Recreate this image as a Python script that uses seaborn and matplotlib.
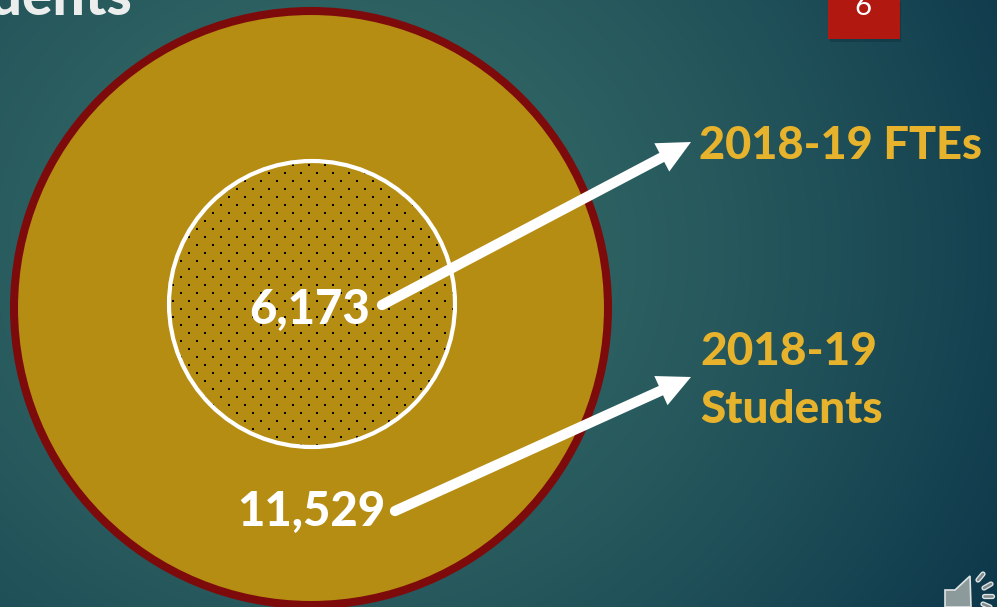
import numpy as np
import pandas as pd
import matplotlib
matplotlib.use("Agg")
import matplotlib.pyplot as plt
from matplotlib.patches import Circle, Rectangle, Polygon
import seaborn as sns

categories = ["2018-19 FTEs", "2018-19", "Students"]
values = [6173, 11529]
slide_number = "6"
title_fragment = "Students"

sns.set_theme(style="white")
plt.rcParams["font.family"] = ["Lato", "DejaVu Sans"]

fig = plt.figure(figsize=(9.97, 6.07), dpi=100)
ax = fig.add_axes([0, 0, 1, 1])
ax.set_xlim(0, 997)
ax.set_ylim(607, 0)
ax.axis("off")

# background gradient
xx, yy = np.meshgrid(np.arange(997), np.arange(607))
d = np.sqrt(((xx - 330) / 760) ** 2 + ((yy - 250) / 700) ** 2)
t = np.clip(d, 0, 1)[..., None] ** 1.5
inner = np.array([0x35, 0x6b, 0x67]) / 255
outer = np.array([0x0d, 0x38, 0x4b]) / 255
ax.imshow(inner + (outer - inner) * t, extent=(0, 997, 607, 0), aspect="auto", zorder=0)

# circles
gold = "#b58d13"
ax.add_patch(Circle((311, 308), 297, fc=gold, ec="#7e0b0b", lw=5.8, zorder=1))
inner_c = Circle((312, 304), 143, fc=gold, ec="none", zorder=2)
ax.add_patch(inner_c)

# stipple
rows = np.arange(157, 456, 8)
px, py = [], []
for i, y in enumerate(rows):
    off = 0 if i % 2 == 0 else 8
    for x in np.arange(157 + off, 470, 16):
        px.append(x); py.append(y)
dots = sns.scatterplot(x=px, y=py, ax=ax, s=4.6, color="#050500", marker="s", linewidth=0, zorder=3, legend=False)
dots.collections[-1].set_clip_path(inner_c)
ax.set_xlim(0, 997); ax.set_ylim(607, 0)
ax.add_patch(Circle((312, 304), 143, fc="none", ec="white", lw=3, zorder=4))

# arrows
def arrow(p0, p1):
    p0, p1 = np.array(p0, float), np.array(p1, float)
    u = (p1 - p0) / np.linalg.norm(p1 - p0)
    n = np.array([-u[1], u[0]])
    base = p1 - u * 33
    ax.plot([p0[0], base[0]], [p0[1], base[1]], color="white", lw=7.4, solid_capstyle="round", zorder=6)
    ax.add_patch(Polygon([p1, base + n * 16, base - n * 16], fc="white", ec="none", zorder=6))

arrow((382, 305), (691, 142))
arrow((395, 511), (691, 377))

# value labels
ax.text(310, 310, f"{values[0]:,}", color="white", fontsize=34, fontweight="black", ha="center", va="center", zorder=7)
ax.text(311, 512, f"{values[1]:,}", color="white", fontsize=34, fontweight="black", ha="center", va="center", zorder=7)

# category labels
lab = "#e8b32c"
ax.text(699, 146, categories[0], color=lab, fontsize=32.5, fontweight="black", ha="left", va="center", zorder=7)
ax.text(700, 352, categories[1], color=lab, fontsize=33, fontweight="black", ha="left", va="center", zorder=7)
ax.text(700, 410, categories[2], color=lab, fontsize=33, fontweight="black", ha="left", va="center", zorder=7)

# title fragment and slide number
ax.text(133, 15, title_fragment, color="#eceeee", fontsize=41, fontweight="black", ha="right", va="baseline", zorder=7)
ax.add_patch(Rectangle((830, 2), 71, 40, fc="#0a2a38", ec="none", alpha=0.35, zorder=5))
ax.add_patch(Rectangle((828, -2), 72, 41, fc="#b01810", ec="none", zorder=6))
ax.text(863, 7, slide_number, color="white", fontsize=21, ha="center", va="center", zorder=7)

# speaker icon
ax.add_patch(Polygon([(945, 590), (955, 590), (970, 576), (971, 607), (945, 607)],
                     fc="#8c9a9c", ec="#dfe4e4", lw=1.2, zorder=7))
for a, b in [((978, 580), (983, 574)), ((984, 588), (991, 584)), ((984, 596), (992, 596)), ((983, 604), (990, 607))]:
    ax.plot(*zip(a, b), color="#dfe4e4", lw=3.8, solid_capstyle="round", zorder=7)
    ax.plot(*zip(a, b), color="#7d8b8d", lw=1.8, solid_capstyle="round", zorder=8)

fig.savefig("out.png", dpi=100)
